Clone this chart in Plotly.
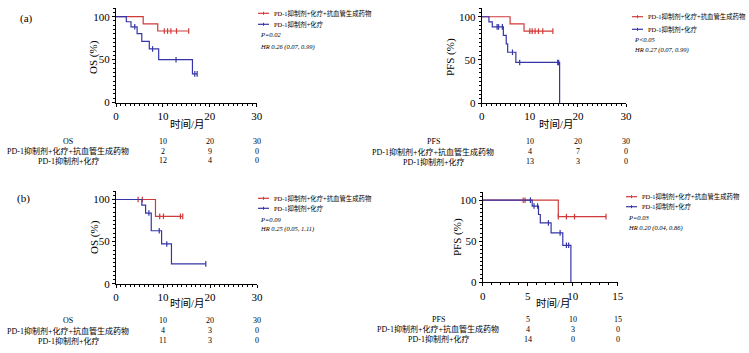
import plotly.graph_objects as go

W, H = 749, 353
RED = "#D03A3A"
BLUE = "#3535A8"
FONT = "Liberation Serif, Noto Sans CJK SC, serif"

# ---------------- data ----------------
arm_red = "PD-1抑制剂+化疗+抗血管生成药物"
arm_blue = "PD-1抑制剂+化疗"

# (a) OS
a_os_red_t = [0, 5.8, 8.9, 15.5]
a_os_red_s = [100, 91.7, 83.3, 83.3]
a_os_red_ct = [10.3, 11.0, 11.7, 12.9, 15.5]
a_os_red_cs = [83.3, 83.3, 83.3, 83.3, 83.3]
a_os_blue_t = [0, 2.2, 3.2, 4.5, 5.5, 7.1, 9.1, 16.3, 17.3]
a_os_blue_s = [100, 94.1, 88.2, 80.2, 71.3, 62.4, 49.9, 33.3, 33.3]
a_os_blue_ct = [4.0, 7.8, 12.8, 16.8, 17.3]
a_os_blue_cs = [88.2, 62.4, 49.9, 33.3, 33.3]

# (a) PFS
a_pfs_red_t = [0, 5.9, 8.8, 14.8]
a_pfs_red_s = [100, 91.7, 83.3, 83.3]
a_pfs_red_ct = [10.0, 10.5, 11.1, 11.8, 12.7, 14.8]
a_pfs_red_cs = [83.3, 83.3, 83.3, 83.3, 83.3, 83.3]
a_pfs_blue_t = [0, 1.5, 2.2, 4.5, 5.1, 5.4, 7.1, 16.2]
a_pfs_blue_s = [100, 94.1, 88.2, 78.4, 68.6, 58.8, 47.0, 0]
a_pfs_blue_ct = [3.2, 3.5, 4.3, 6.4, 7.9, 15.8, 16.0]
a_pfs_blue_cs = [88.2, 88.2, 88.2, 58.8, 47.0, 47.0, 47.0]

# (b) OS
b_os_red_t = [0, 8.4, 14.2]
b_os_red_s = [100, 80, 80]
b_os_red_ct = [4.7, 5.6, 9.3, 10.1, 13.7, 14.2]
b_os_red_cs = [100, 100, 80, 80, 80, 80]
b_os_blue_t = [0, 5.5, 6.3, 7.5, 9.7, 11.8, 19.1]
b_os_blue_s = [100, 93.3, 83.9, 62.9, 47.2, 23.6, 23.6]
b_os_blue_ct = [7.0, 9.2, 10.8, 19.1]
b_os_blue_cs = [83.9, 62.9, 47.2, 23.6]

# (b) PFS
b_pfs_red_t = [0, 8.4, 13.7]
b_pfs_red_s = [100, 80, 80]
b_pfs_red_ct = [4.5, 4.7, 8.4, 9.3, 10.2, 13.7]
b_pfs_red_cs = [100, 100, 80, 80, 80, 80]
b_pfs_blue_t = [0, 5.5, 6.2, 6.4, 7.6, 8.9, 9.8]
b_pfs_blue_s = [100, 92.9, 82.6, 72.3, 60.2, 45.1, 0]
b_pfs_blue_ct = [5.3, 5.7, 6.1, 7.3, 8.6, 9.3, 9.55]
b_pfs_blue_cs = [100, 92.9, 92.9, 72.3, 60.2, 45.1, 45.1]

# risk tables
a_os_risk_cols = [10, 20, 30]; a_os_risk_red = [2, 9, 0]; a_os_risk_blue = [12, 4, 0]
a_pfs_risk_cols = [10, 20, 30]; a_pfs_risk_red = [4, 7, 0]; a_pfs_risk_blue = [13, 3, 0]
b_os_risk_cols = [10, 20, 30]; b_os_risk_red = [4, 3, 0]; b_os_risk_blue = [11, 3, 0]
b_pfs_risk_cols = [5, 10, 15]; b_pfs_risk_red = [4, 3, 0]; b_pfs_risk_blue = [14, 0, 0]

# stats text
a_os_stats = ["P=0.02", "HR 0.26 (0.07, 0.99)"]
a_pfs_stats = ["P<0.05", "HR 0.27 (0.07, 0.99)"]
b_os_stats = ["P=0.09", "HR 0.25 (0.05, 1.11)"]
b_pfs_stats = ["P=0.03", "HR 0.20 (0.04, 0.86)"]


def px(x):
    return x / W


def py(y):
    return 1 - y / H


panels = [
    dict(name="OS", xmax=30, xdtick=10,
         xdom=[116, 256.7], ydom=[102.5, 8.1],
         red=(a_os_red_t, a_os_red_s, a_os_red_ct, a_os_red_cs),
         blue=(a_os_blue_t, a_os_blue_s, a_os_blue_ct, a_os_blue_cs),
         risk=(a_os_risk_cols, a_os_risk_red, a_os_risk_blue),
         risk_label_x=68, risk_rows=[141, 151, 161],
         ytitle="OS (%)", ytitle_pos=(94, 57), xtitle_pos=(187, 124),
         leg=dict(x0=258, text_x=272, rows=[13.3, 24.3], stat_rows=[35, 46.7]),
         stats=a_os_stats),
    dict(name="PFS", xmax=30, xdtick=10,
         xdom=[481.7, 626], ydom=[103, 8.1],
         red=(a_pfs_red_t, a_pfs_red_s, a_pfs_red_ct, a_pfs_red_cs),
         blue=(a_pfs_blue_t, a_pfs_blue_s, a_pfs_blue_ct, a_pfs_blue_cs),
         risk=(a_pfs_risk_cols, a_pfs_risk_red, a_pfs_risk_blue),
         risk_label_x=433, risk_rows=[141.5, 151.5, 161.5],
         ytitle="PFS (%)", ytitle_pos=(451, 57), xtitle_pos=(556, 124),
         leg=dict(x0=632, text_x=646, rows=[16.7, 29.3], stat_rows=[39.3, 50]),
         stats=a_pfs_stats),
    dict(name="OS", xmax=30, xdtick=10,
         xdom=[116, 257], ydom=[283.7, 191.1],
         red=(b_os_red_t, b_os_red_s, b_os_red_ct, b_os_red_cs),
         blue=(b_os_blue_t, b_os_blue_s, b_os_blue_ct, b_os_blue_cs),
         risk=(b_os_risk_cols, b_os_risk_red, b_os_risk_blue),
         risk_label_x=68, risk_rows=[320.7, 330.7, 340.7],
         ytitle="OS (%)", ytitle_pos=(94, 237), xtitle_pos=(187, 302.5),
         leg=dict(x0=258, text_x=272, rows=[198.3, 208.3], stat_rows=[219.3, 229.3]),
         stats=b_os_stats),
    dict(name="PFS", xmax=15, xdtick=5,
         xdom=[482.7, 617.7], ydom=[282.3, 192],
         red=(b_pfs_red_t, b_pfs_red_s, b_pfs_red_ct, b_pfs_red_cs),
         blue=(b_pfs_blue_t, b_pfs_blue_s, b_pfs_blue_ct, b_pfs_blue_cs),
         risk=(b_pfs_risk_cols, b_pfs_risk_red, b_pfs_risk_blue),
         risk_label_x=438, risk_rows=[319.3, 329.3, 339.3],
         ytitle="PFS (%)", ytitle_pos=(457, 237), xtitle_pos=(553, 303.3),
         leg=dict(x0=626, text_x=640, rows=[196.7, 206.7], stat_rows=[217.7, 227.7]),
         stats=b_pfs_stats),
]

fig = go.Figure()
annotations = []
shapes = []
layout = {}

for i, p in enumerate(panels):
    k = "" if i == 0 else str(i + 1)
    xa, ya = "x" + k, "y" + k
    for arm, color in (("red", RED), ("blue", BLUE)):
        t, s, ct, cs = p[arm]
        fig.add_trace(go.Scatter(x=t, y=s, mode="lines", line=dict(color=color, width=1.2, shape="hv"),
                                 xaxis=xa, yaxis=ya, showlegend=False, hoverinfo="skip", cliponaxis=False))
        fig.add_trace(go.Scatter(x=ct, y=cs, mode="markers",
                                 marker=dict(symbol="line-ns", size=4, line=dict(color=color, width=1.2)),
                                 xaxis=xa, yaxis=ya, showlegend=False, hoverinfo="skip", cliponaxis=False))
    common = dict(showgrid=False, zeroline=False, showline=True, linecolor="black", linewidth=1,
                  ticks="outside", ticklen=3, tickwidth=1, tickcolor="black", automargin=False,
                  tickfont=dict(family=FONT, size=11, color="black"))
    layout["xaxis" + k] = dict(common, domain=[px(p["xdom"][0]), px(p["xdom"][1])], anchor=ya,
                               range=[0, p["xmax"]], tickmode="linear", tick0=0, dtick=p["xdtick"],
                               minor=dict(dtick=1, ticklen=2, ticks="outside", tickcolor="black", tickwidth=1))
    layout["yaxis" + k] = dict(common, domain=[py(p["ydom"][0]), py(p["ydom"][1])], anchor=xa,
                               range=[0, 110], tickvals=[0, 50, 100],
                               minor=dict(dtick=5, ticklen=2, ticks="outside", tickcolor="black", tickwidth=1))

    # axis titles
    annotations.append(dict(text=p["ytitle"], x=px(p["ytitle_pos"][0]), y=py(p["ytitle_pos"][1]),
                            xref="paper", yref="paper", textangle=-90, showarrow=False,
                            font=dict(family=FONT, size=11, color="black"), xanchor="center", yanchor="middle"))
    annotations.append(dict(text="时间/月", x=px(p["xtitle_pos"][0]), y=py(p["xtitle_pos"][1]),
                            xref="paper", yref="paper", showarrow=False,
                            font=dict(family=FONT, size=10.5, color="black"), xanchor="center", yanchor="middle"))

    # risk table
    cols, rr, rb = p["risk"]
    rows = p["risk_rows"]
    for label, yy in zip([p["name"], arm_red, arm_blue], rows):
        annotations.append(dict(text=label, x=px(p["risk_label_x"]), y=py(yy), xref="paper", yref="paper",
                                showarrow=False, font=dict(family=FONT, size=8, color="black"),
                                xanchor="center", yanchor="middle"))
    for c, vr, vb in zip(cols, rr, rb):
        for val, yy in zip([c, vr, vb], rows):
            annotations.append(dict(text=str(val), x=c, y=py(yy), xref=xa, yref="paper",
                                    showarrow=False, font=dict(family=FONT, size=8, color="black"),
                                    xanchor="center", yanchor="middle"))

    # legend
    lg = p["leg"]
    for (lab, color), yy in zip(((arm_red, RED), (arm_blue, BLUE)), lg["rows"]):
        shapes.append(dict(type="line", xref="paper", yref="paper", x0=px(lg["x0"]), x1=px(lg["x0"] + 11),
                           y0=py(yy), y1=py(yy), line=dict(color=color, width=1.2)))
        shapes.append(dict(type="line", xref="paper", yref="paper", x0=px(lg["x0"] + 5.5), x1=px(lg["x0"] + 5.5),
                           y0=py(yy - 1.5), y1=py(yy + 1.5), line=dict(color=color, width=1)))
        annotations.append(dict(text=lab, x=px(lg["text_x"]), y=py(yy), xref="paper", yref="paper",
                                showarrow=False, font=dict(family=FONT, size=6.4, color="black"),
                                xanchor="left", yanchor="middle"))
    for txt, yy in zip(p["stats"], lg["stat_rows"]):
        annotations.append(dict(text="<i>" + txt + "</i>", x=px(lg["x0"]), y=py(yy), xref="paper", yref="paper",
                                showarrow=False, font=dict(family=FONT, size=6.5, color="black"),
                                xanchor="left", yanchor="middle"))

# panel labels
for lab, (xx, yy) in (("(a)", (26, 18)), ("(b)", (23, 199))):
    annotations.append(dict(text=lab, x=px(xx), y=py(yy), xref="paper", yref="paper", showarrow=False,
                            font=dict(family=FONT, size=11, color="black"), xanchor="center", yanchor="middle"))

fig.update_layout(width=W, height=H, autosize=False, margin=dict(l=0, r=0, t=0, b=0),
                  template="none",
                  paper_bgcolor="white", plot_bgcolor="white", showlegend=False,
                  annotations=annotations, shapes=shapes, **layout)

fig.write_html("out.html", config={"displayModeBar": False, "staticPlot": True},
               post_script="document.body.style.margin='0';document.body.style.padding='0';"
                           "document.documentElement.style.overflow='hidden';")
